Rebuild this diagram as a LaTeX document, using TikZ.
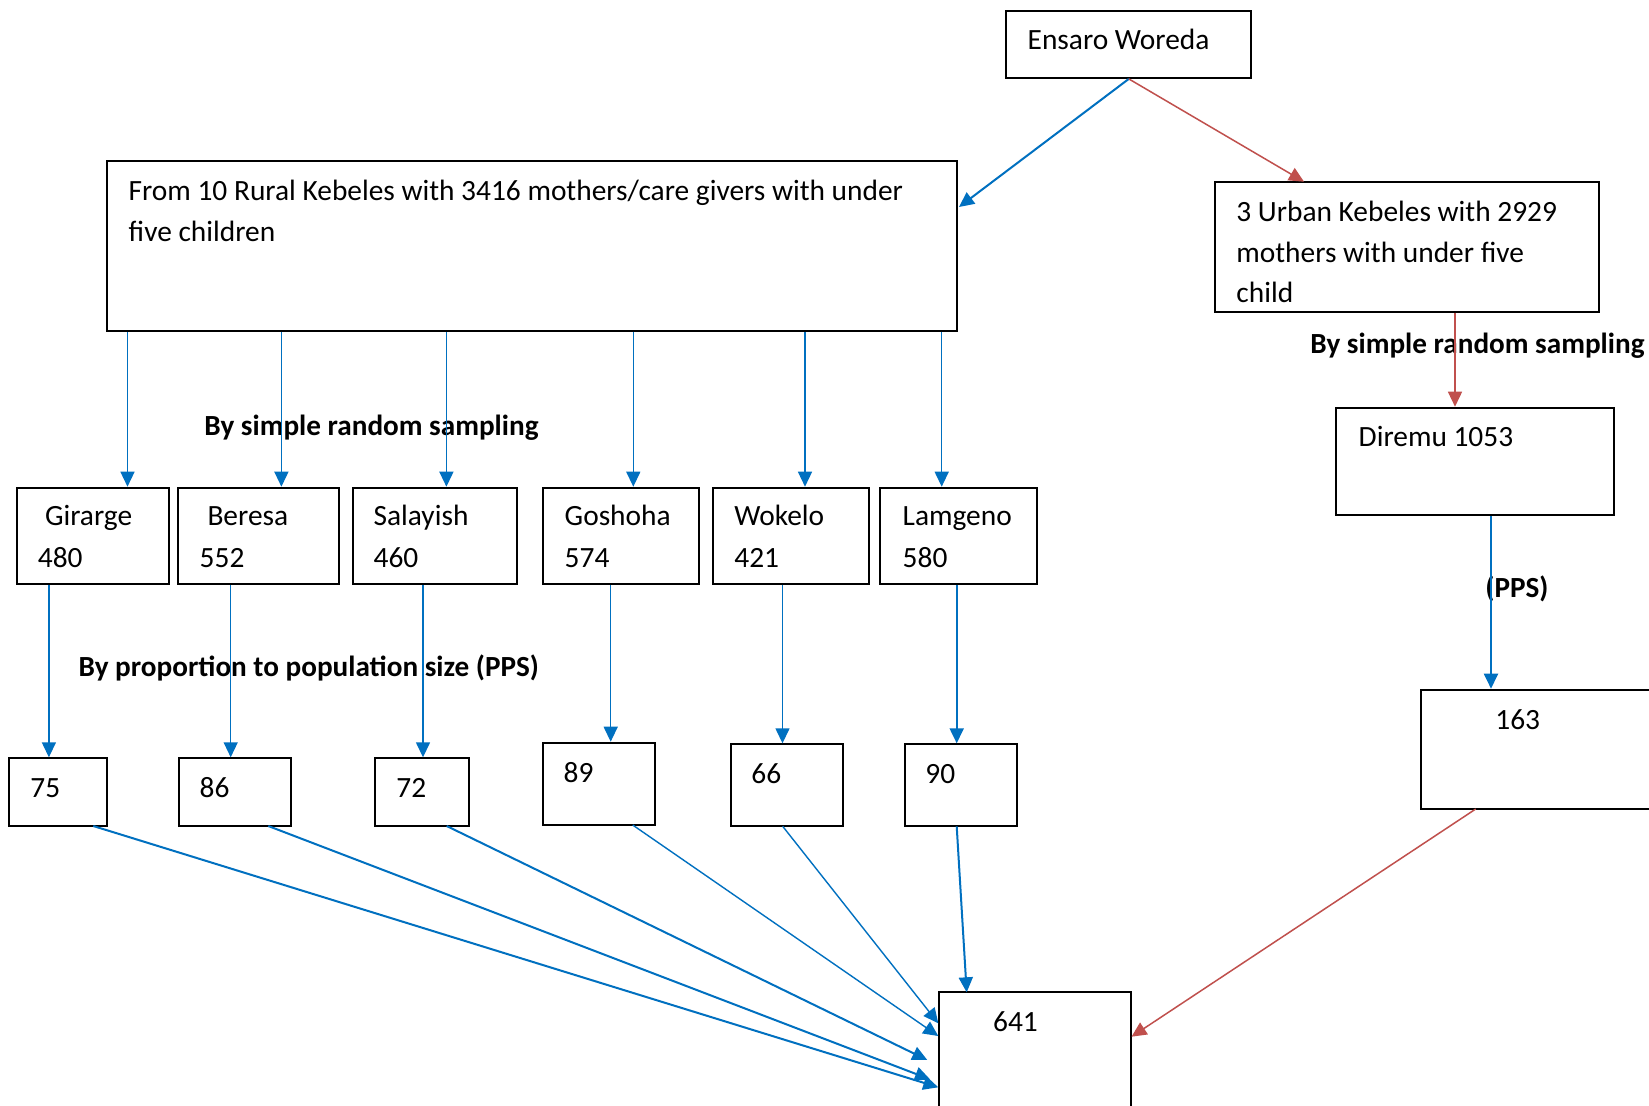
\documentclass[tikz,border=0pt]{standalone}
\usepackage{fontspec}
\setmainfont{Carlito}
\usetikzlibrary{arrows.meta,fit}
\definecolor{cblue}{HTML}{0070C0}
\definecolor{cred}{HTML}{C0504D}
\begin{document}
\begin{tikzpicture}[x=0.5pt,y=-0.5pt,
  box/.style={draw=black,line width=1pt,inner sep=0pt},
  txt/.style={anchor=base west,inner sep=0pt,font=\fontsize{14.7}{20.5}\selectfont},
  lbl/.style={anchor=base west,inner sep=0pt,font=\fontsize{14.6}{20.5}\selectfont\bfseries},
  tip/.style={-{Triangle[length=7.5pt,width=7pt]}},
  bthin/.style={tip,draw=cblue,line width=0.7pt},
  bthick/.style={tip,draw=cblue,line width=1pt},
  rarr/.style={tip,draw=cred,line width=0.75pt}]
\useasboundingbox (0,0) rectangle (1649,1105);
\clip (0,0) rectangle (1649,1105);
\fill[white] (0,0) rectangle (1649,1105);

% boxes
\node[box,fit={(1006.3,10.7) (1251.3,77.9)}] (ensaro) {};
\node[box,fit={(107.3,161.4) (956.9,331)}] (rural) {};
\node[box,fit={(1215,181.7) (1599.3,311.7)}] (urban) {};
\node[box,fit={(1336,407.7) (1614.3,515)}] (diremu) {};
\node[box,fit={(16.8,487.7) (168.9,584.3)}] (girarge) {};
\node[box,fit={(178.3,487.7) (338.6,584.3)}] (beresa) {};
\node[box,fit={(352.9,487.7) (516.8,584.3)}] (salayish) {};
\node[box,fit={(542.7,487.7) (699.3,584.3)}] (goshoha) {};
\node[box,fit={(712.7,487.7) (868.7,584.3)}] (wokelo) {};
\node[box,fit={(880.3,487.7) (1037.3,584.3)}] (lamgeno) {};
\node[box,fit={(8.7,758.3) (107,826)}] (n75) {};
\node[box,fit={(178.7,758.3) (290.7,826)}] (n86) {};
\node[box,fit={(375,758.3) (468.7,826)}] (n72) {};
\node[box,fit={(542.7,742.7) (655.3,825)}] (n89) {};
\node[box,fit={(730.7,744.3) (843.3,826.3)}] (n66) {};
\node[box,fit={(905,744.3) (1017.3,826.3)}] (n90) {};
\node[box,fit={(1420.7,689.7) (1670,809)}] (n163) {};
\node[box,fit={(939,992.3) (1131,1125)}] (n641) {};

% texts
\node[txt] (tensaro) at (1027.3,49.3) {Ensaro Woreda};
\node[txt] (trural1) at (128.3,200) {From 10 Rural Kebeles with 3416 mothers/care givers with under};
\node[txt] (trural2) at (128.3,241) {five children};
\node[txt] (turban1) at (1236,221.7) {3 Urban Kebeles with 2929};
\node[txt] (turban2) at (1236,262) {mothers with under five};
\begin{scope}
\clip (1216,270) rectangle (1598,302);
\node[txt] (turban3) at (1236,302.5) {child};
\end{scope}
\node[txt] (tdiremu) at (1358.3,446.7) {Diremu 1053};
\node[txt] (tgir1) at (44.6,525) {Girarge};
\node[txt] (tgir2) at (37.5,567.7) {480};
\node[txt] (tber1) at (207.1,525) {Beresa};
\node[txt] (tber2) at (199.3,567.7) {552};
\node[txt] (tsal1) at (373.2,525) {Salayish};
\node[txt] (tsal2) at (373.2,567.7) {460};
\node[txt] (tgos1) at (564.3,525) {Goshoha};
\node[txt] (tgos2) at (564.3,567.7) {574};
\node[txt] (twok1) at (734,525) {Wokelo};
\node[txt] (twok2) at (734,567.7) {421};
\node[txt] (tlam1) at (902.3,525) {Lamgeno};
\node[txt] (tlam2) at (902.3,567.7) {580};
\node[txt] (t75) at (30,797.7) {75};
\node[txt] (t86) at (199.3,797.7) {86};
\node[txt] (t72) at (396,797.7) {72};
\node[txt] (t89) at (563.3,782.3) {89};
\node[txt] (t66) at (751,783.3) {66};
\node[txt] (t90) at (925,783.3) {90};
\node[txt] (t163) at (1495,729) {163};
\node[txt] (t641) at (992.7,1031.7) {641};

% labels
\node[lbl] (lsrs1) at (204,435) {By simple random sampling};
\node[lbl] (lsrs2) at (1310,353.3) {By simple random sampling};
\node[lbl] (lpps1) at (78.3,676) {By proportion to population size (PPS)};
\node[lbl] (lpps2) at (1485,597) {(PPS)};

% connector coordinates
\coordinate (er) at (959,207);
\coordinate (eu) at (1304,181.7);
\coordinate (xg) at (127.5,0);
\coordinate (xb) at (281.4,0);
\coordinate (xs) at (446.4,0);
\coordinate (xo) at (633.3,0);
\coordinate (xw) at (805,0);
\coordinate (xl) at (941.7,0);
\coordinate (yg) at (48.9,0);
\coordinate (yb) at (230.7,0);
\coordinate (ys) at (423,0);
\coordinate (yo) at (610.7,0);
\coordinate (yw) at (782.5,0);
\coordinate (yl) at (956.7,0);
\coordinate (xu) at (1455,0);
\coordinate (xd) at (1491,0);
\coordinate (s75) at (93.3,826);
\coordinate (s86) at (268.3,826);
\coordinate (s72) at (446.7,826);
\coordinate (s89) at (632.7,825);
\coordinate (s66) at (782.7,826.3);
\coordinate (s90) at (956.7,826.3);
\coordinate (s163) at (1475.7,809);
\coordinate (e75) at (938.3,1087.3);
\coordinate (e86) at (930,1079.3);
\coordinate (e72) at (927.3,1060);
\coordinate (e89) at (938.3,1036);
\coordinate (e66) at (938.3,1023.3);
\coordinate (e90) at (966.7,992.3);
\coordinate (e163) at (1131.5,1036.7);

% connectors
\draw[bthick] (ensaro.south) -- (er);
\draw[rarr] (ensaro.south) -- (eu);
\draw[bthin] (rural.south -| xg) -- (girarge.north -| xg);
\draw[bthin] (rural.south -| xb) -- (beresa.north -| xb);
\draw[bthin] (rural.south -| xs) -- (salayish.north -| xs);
\draw[bthin] (rural.south -| xo) -- (goshoha.north -| xo);
\draw[bthin] (rural.south -| xw) -- (wokelo.north -| xw);
\draw[bthin] (rural.south -| xl) -- (lamgeno.north -| xl);
\draw[bthin] (girarge.south -| yg) -- (n75.north -| yg);
\draw[bthin] (beresa.south -| yb) -- (n86.north -| yb);
\draw[bthin] (salayish.south -| ys) -- (n72.north -| ys);
\draw[bthin] (goshoha.south -| yo) -- (n89.north -| yo);
\draw[bthin] (wokelo.south -| yw) -- (n66.north -| yw);
\draw[bthick] (lamgeno.south -| yl) -- (n90.north -| yl);
\draw[rarr] (urban.south -| xu) -- (diremu.north -| xu);
\draw[bthick] (diremu.south -| xd) -- (n163.north -| xd);
\draw[bthick] (s75) -- (e75);
\draw[bthick] (s86) -- (e86);
\draw[bthick] (s72) -- (e72);
\draw[bthin] (s89) -- (e89);
\draw[bthin] (s66) -- (e66);
\draw[bthick] (s90) -- (e90);
\draw[rarr] (s163) -- (e163);
\end{tikzpicture}
\end{document}
